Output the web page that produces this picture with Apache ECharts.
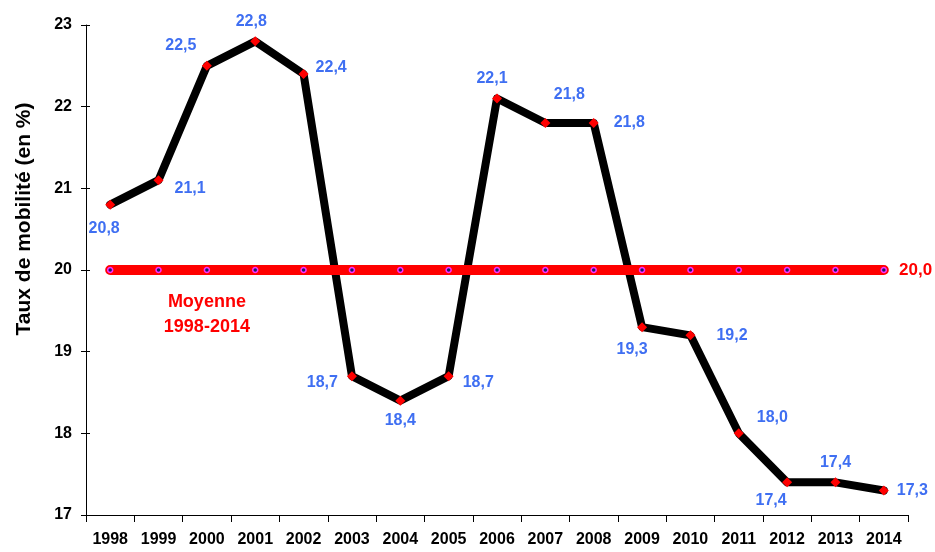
<!DOCTYPE html>
<html>
<head>
<meta charset="utf-8">
<script src="https://cdn.jsdelivr.net/npm/echarts@6/dist/echarts.min.js"></script>
<style>html,body{margin:0;padding:0;background:#fff}#c{width:935px;height:552px}</style>
</head>
<body>
<div id="c"></div>
<script>
var years = ['1998','1999','2000','2001','2002','2003','2004','2005','2006','2007','2008','2009','2010','2011','2012','2013','2014'];
var tauxMobilite = [20.8,21.1,22.5,22.8,22.4,18.7,18.4,18.7,22.1,21.8,21.8,19.3,19.2,18.0,17.4,17.4,17.3];
var moyenne = [20,20,20,20,20,20,20,20,20,20,20,20,20,20,20,20,20];
var yTicks = [17,18,19,20,21,22,23];
var yTitle = 'Taux de mobilité (en %)';
var meanTitle = 'Moyenne\n1998-2014';

var FONT = "'Liberation Sans',Arial,sans-serif";
// label placement per point [position, dx, dy]
var placement = [
  ['bottom',-6,6],['right',6,8],['top',-26,-2],['top',-4,-2],['right',2,-6],
  ['left',-4,6],['bottom',0,2],['right',4,6],['top',-5,-2],['top',24,-10],
  ['right',10,0],['bottom',-10,4],['right',16,0],['right',8,-16],['bottom',-16,0],
  ['top',0,-2],['right',3,0]
];
function fmt(v){ return v.toFixed(1).replace('.', ','); }

var mainData = tauxMobilite.map(function(v,i){
  return {value:v, label:{position:placement[i][0], offset:[placement[i][1],placement[i][2]]}};
});
var meanData = moyenne.map(function(v,i){
  var d = {value:v};
  if(i===2){ d.label = {show:true, position:'bottom', distance:16, formatter:meanTitle, fontSize:18, lineHeight:25}; }
  if(i===moyenne.length-1){ d.label = {show:true, position:'right', distance:12, formatter:function(p){return fmt(p.value);}, fontSize:17}; }
  return d;
});

var chart = echarts.init(document.getElementById('c'));
chart.setOption({
  animation:false,
  grid:{left:86,right:27,top:25,bottom:37},
  graphic:[{
    type:'text', x:24, y:219, rotation:Math.PI/2,
    style:{text:yTitle, fill:'#000', font:"bold 21px " + FONT, textAlign:'center', textVerticalAlign:'middle'}
  }],
  xAxis:{
    type:'category', data:years, boundaryGap:true,
    axisLine:{lineStyle:{color:'#000',width:1}},
    axisTick:{show:true,length:7,lineStyle:{color:'#000'}},
    axisLabel:{color:'#000',fontWeight:'bold',fontSize:16,fontFamily:FONT,margin:17}
  },
  yAxis:[{
    type:'value', min:17, max:23, interval:1,
    axisLine:{show:true,lineStyle:{color:'#000',width:1}},
    axisTick:{show:true,length:5,lineStyle:{color:'#000'}},
    splitLine:{show:false},
    axisLabel:{color:'#000',fontWeight:'bold',fontSize:16,fontFamily:FONT,margin:14,
      formatter:function(v){return yTicks.indexOf(v)>=0?String(v):'';}}
  },{
    type:'value', min:17, max:23, interval:1, position:'left',
    axisLine:{show:false}, axisLabel:{show:false}, splitLine:{show:false},
    axisTick:{show:true,inside:true,length:4,lineStyle:{color:'#000'}}
  }],
  series:[{
    type:'line', data:mainData, z:2,
    lineStyle:{color:'#000',width:8,cap:'round',join:'round'},
    symbol:'diamond', symbolSize:10, showAllSymbol:true,
    itemStyle:{color:'#ff0000',borderWidth:0},
    label:{show:true,color:'#3f6ff2',fontWeight:'bold',fontSize:16,fontFamily:FONT,
      formatter:function(p){return fmt(p.value);}}
  },{
    type:'line', data:meanData, z:3,
    lineStyle:{color:'#ff0000',width:10,cap:'round'},
    symbol:'circle', symbolSize:5, showAllSymbol:true,
    itemStyle:{color:'#1a1a66',borderColor:'#ff33ff',borderWidth:1.5},
    label:{show:false,color:'#ff0000',fontWeight:'bold',fontFamily:FONT}
  }]
});
</script>
</body>
</html>
